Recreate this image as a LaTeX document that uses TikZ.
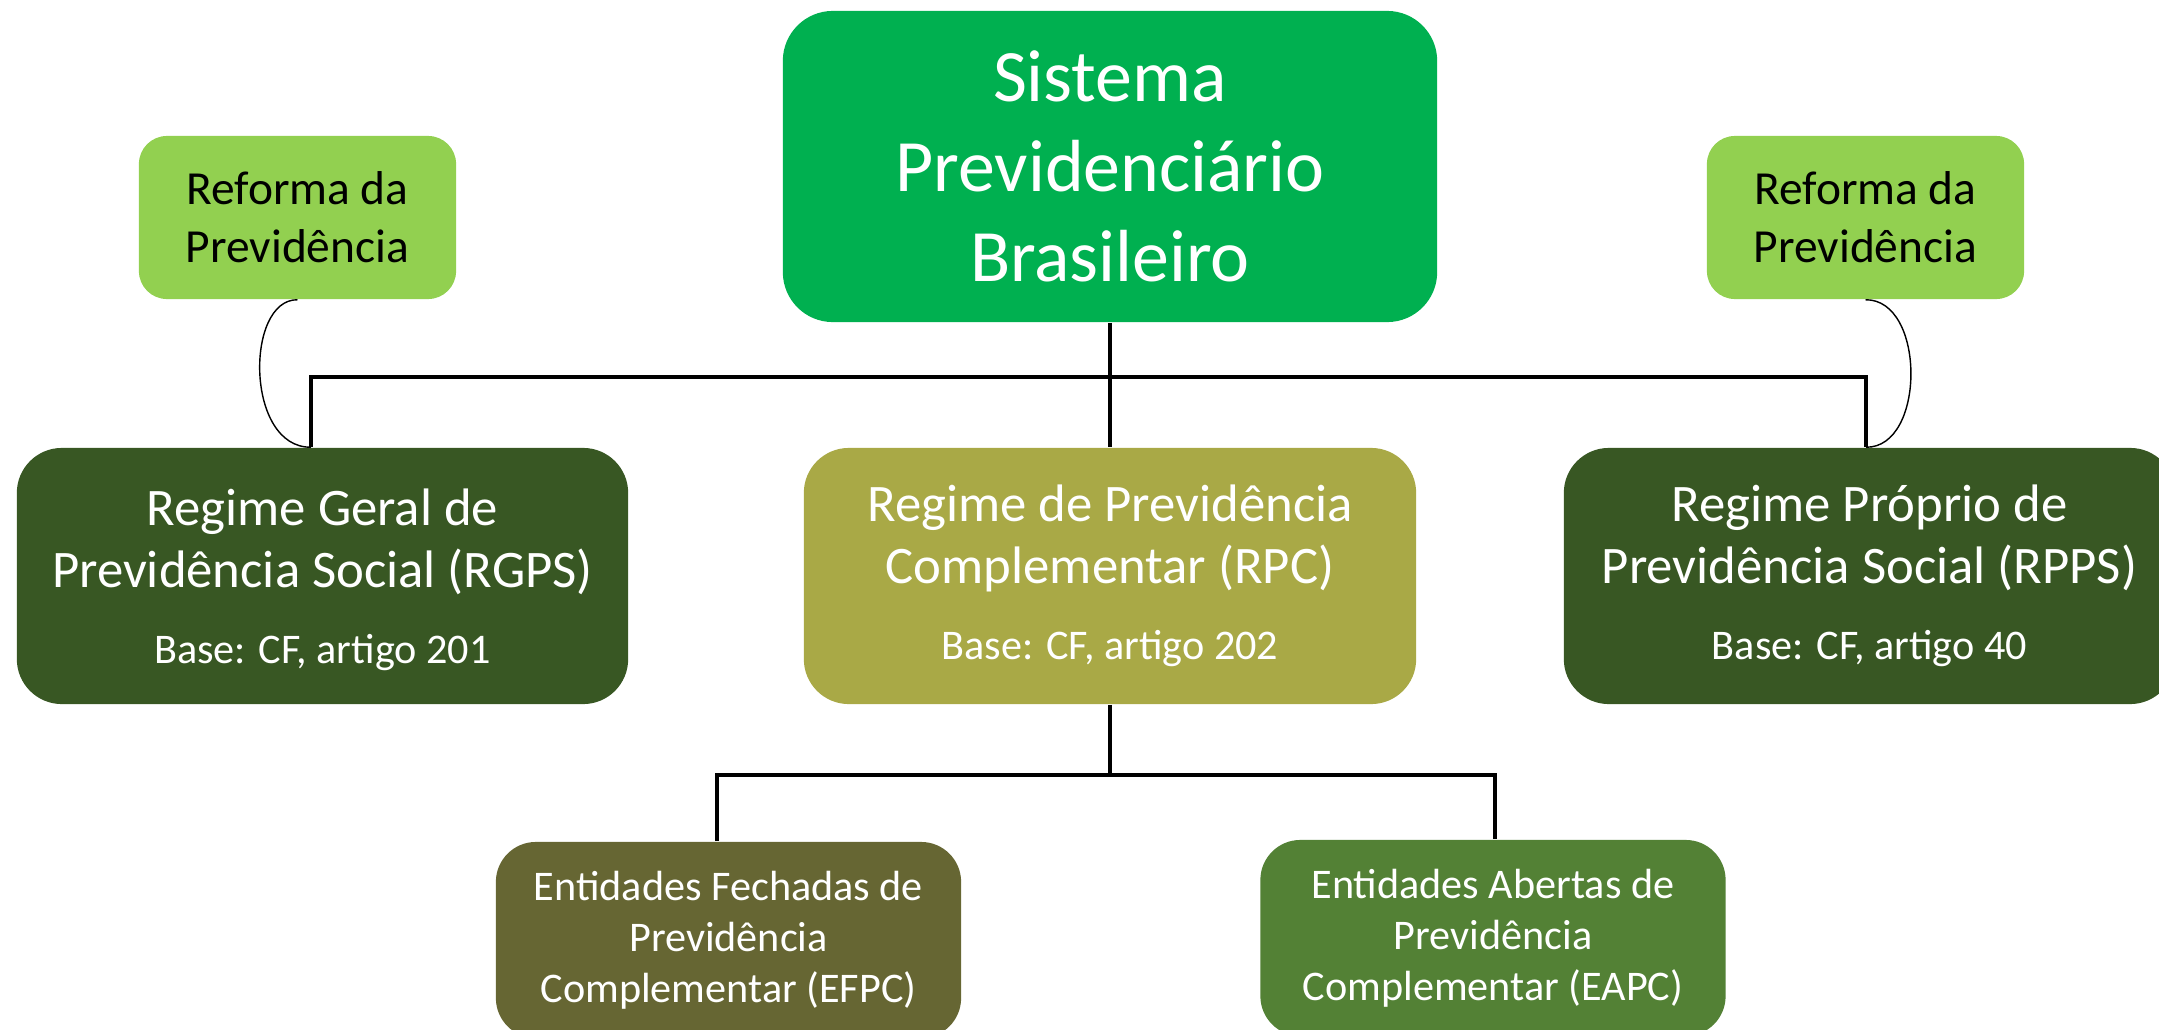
\documentclass[tikz,border=0pt]{standalone}
\usepackage{fontspec}
\setmainfont{Carlito}
\usepackage{tikz}
\definecolor{verde}{RGB}{0, 176, 80}
\definecolor{verdeclaro}{RGB}{146, 208, 80}
\definecolor{verdeescuro}{RGB}{56, 87, 35}
\definecolor{oliva}{RGB}{169, 169, 70}
\definecolor{olivaescuro}{RGB}{102, 102, 51}
\definecolor{verdemedio}{RGB}{83, 129, 53}

\begin{document}
\begin{tikzpicture}[x = 0.01cm, y = -0.01cm,
			caixa/.style = {rounded corners = 0.45cm, align = center, text = white, inner sep = 0pt},
			reforma/.style = {caixa, rounded corners = 0.28cm, text = black, fill = verdeclaro, minimum width = 3.17cm, minimum height = 1.63cm, font = \fontsize{13.5}{16.5}\selectfont},
			regime/.style = {caixa, minimum height = 2.56cm, font = \fontsize{15}{17.6}\selectfont},
			entidade/.style = {caixa, rounded corners = 0.4cm, minimum width = 4.65cm, minimum height = 1.96cm, font = \fontsize{12}{14.5}\selectfont},
			ligacao/.style = {line width = 1.1pt},
			chave/.style = {line width = 0.4pt}]
			\useasboundingbox (0,0) rectangle (2159,1030);
			\node (sis) at (1110,166.5) [caixa, fill = verde, minimum width = 6.54cm, minimum height = 3.11cm, rounded corners = 0.5cm, font = \fontsize{21}{25.5}\selectfont] {Sistema\\Previdenciário\\Brasileiro};
			\node (refl) at (297.5,217.5) [reforma] {Reforma da\\Previdência};
			\node (refr) at (1865.5,217.5) [reforma] {Reforma da\\Previdência};
			\node (rgps) at (322.5,576) [regime, fill = verdeescuro, minimum width = 6.11cm, text depth = 0pt] {Regime Geral de\\Previdência Social (RGPS)\\[4pt]{\fontsize{12}{14.5}\selectfont Base: CF, artigo 201}};
			\node (rpc) at (1110,576) [regime, fill = oliva, minimum width = 6.12cm] {Regime de Previdência\\Complementar (RPC)\\[4pt]{\fontsize{12}{14.5}\selectfont Base: CF, artigo 202}};
			\node (rpps) at (1869.5,576) [regime, fill = verdeescuro, minimum width = 6.11cm] {Regime Próprio de\\Previdência Social (RPPS)\\[4pt]{\fontsize{12}{14.5}\selectfont Base: CF, artigo 40}};
			\node (efpc) at (728.5,940) [entidade, fill = olivaescuro] {Entidades Fechadas de\\Previdência\\Complementar (EFPC)};
			\node (eapc) at (1493,938) [entidade, fill = verdemedio] {Entidades Abertas de\\Previdência\\Complementar (EAPC)};
			\coordinate (hl) at (311,377);
			\coordinate (hr) at (1866,377);
			\coordinate (bl) at (717,775);
			\coordinate (br) at (1495,775);
			\draw[ligacao] (sis.south) -- (rpc.north);
			\draw[ligacao] (hl |- rgps.north) -- (hl) -- (hr) -- (hr |- rpps.north);
			\draw[ligacao] (rpc.south) -- (rpc.south |- bl);
			\draw[ligacao] (bl |- efpc.north) -- (bl) -- (br) -- (br |- eapc.north);
			\draw[chave] (refl.south) .. controls (245,299) and (245,448) .. (hl |- rgps.north);
			\draw[chave] (refr.south) .. controls (1926,299) and (1926,448) .. (hr |- rpps.north);
\end{tikzpicture}
\end{document}
